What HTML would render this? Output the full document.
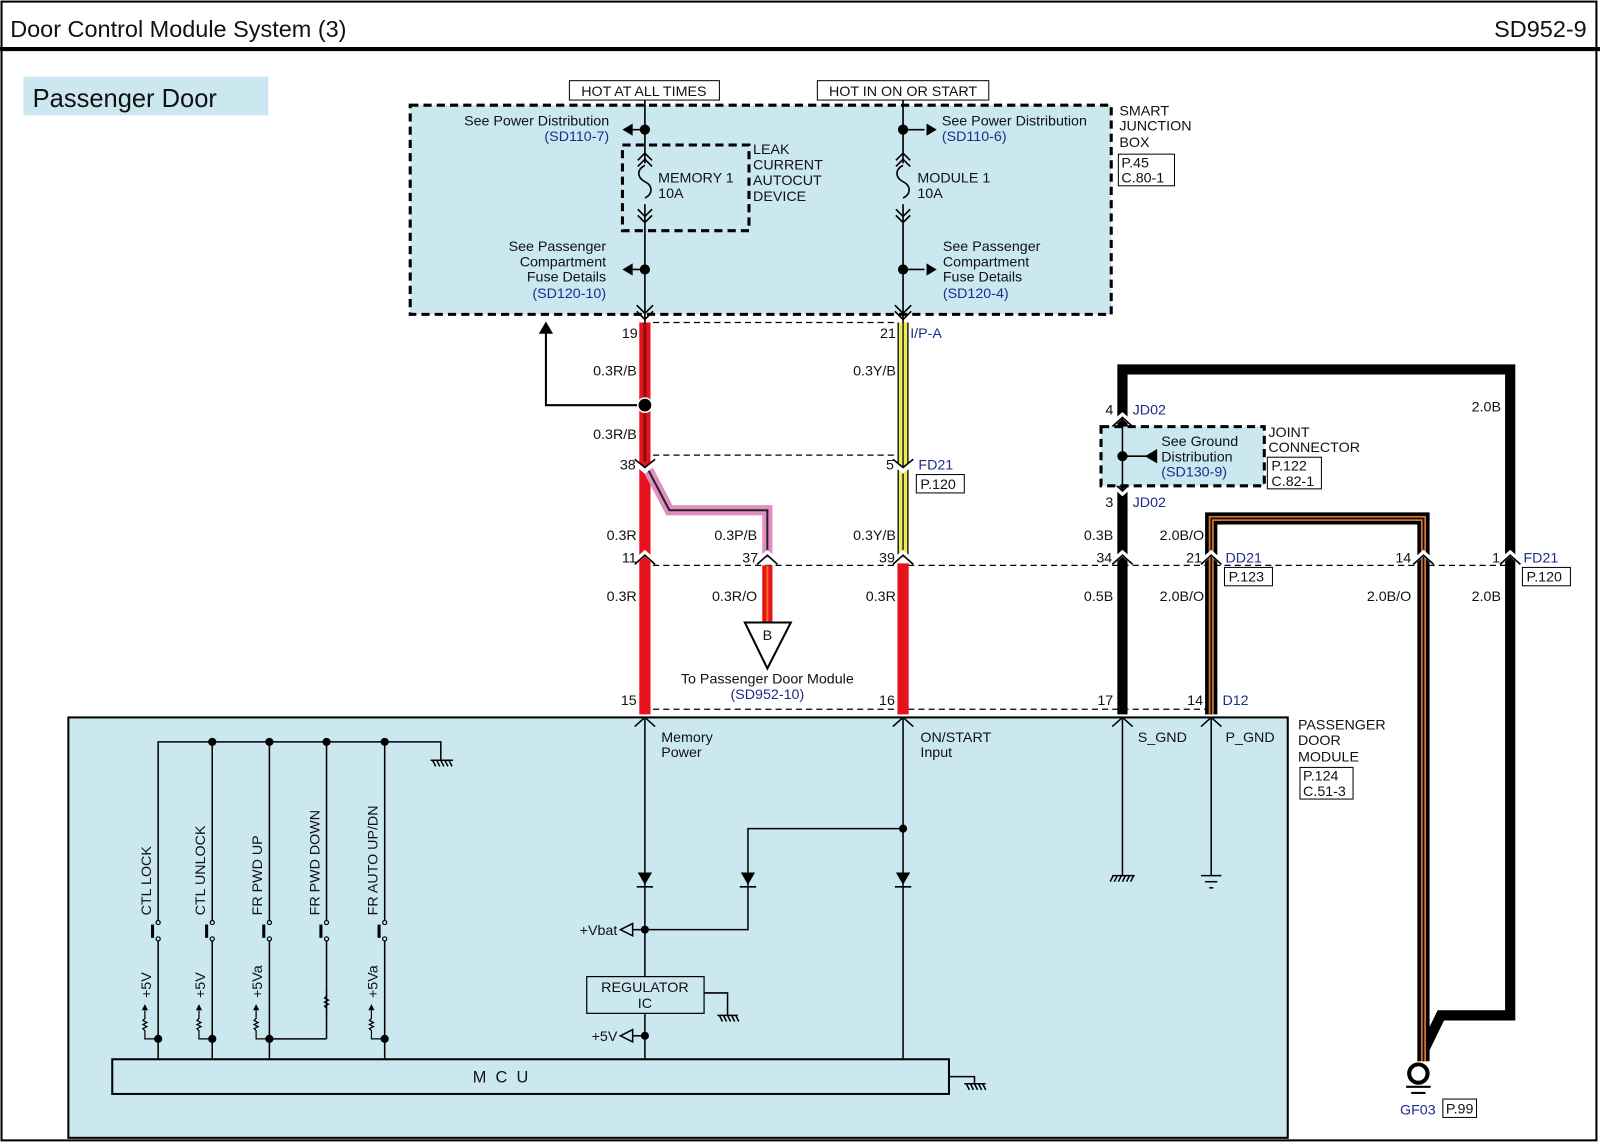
<!DOCTYPE html>
<html><head><meta charset="utf-8"><style>
html,body{margin:0;padding:0;background:#fff}
svg{display:block}
text{font-family:"Liberation Sans",Arial,sans-serif;fill:#111}
.b{fill:#1f2a8c}
.s{font-size:14px}
</style></head><body>
<svg width="1600" height="1143" viewBox="0 0 1568 1120" xmlns="http://www.w3.org/2000/svg">
<rect x="1.5" y="1.5" width="1563" height="1116" fill="#fff" stroke="#000" stroke-width="2"/>
<line x1="0" y1="48" x2="1568" y2="48" stroke="#000" stroke-width="4"/>
<text x="10" y="36" font-size="23">Door Control Module System (3)</text>
<text x="1555" y="36" font-size="23" text-anchor="end">SD952-9</text>
<rect x="23" y="75" width="240" height="38" fill="#cbe8f0"/>
<text x="32" y="105" font-size="25">Passenger Door</text>

<!-- smart junction box -->
<rect x="402" y="103" width="687" height="205" fill="#cbe8f0" stroke="#000" stroke-width="3" stroke-dasharray="8,5"/>
<rect x="610" y="142" width="124" height="84" fill="none" stroke="#000" stroke-width="3" stroke-dasharray="8,5"/>
<rect x="558" y="79" width="147" height="19" fill="#fff" stroke="#000"/>
<text x="631" y="94" font-size="14" text-anchor="middle">HOT AT ALL TIMES</text>
<rect x="801" y="79" width="168" height="19" fill="#fff" stroke="#000"/>
<text x="885" y="94" font-size="14" text-anchor="middle">HOT IN ON OR START</text>
<text x="1097" y="113" class="s">SMART</text><text x="1097" y="128" class="s">JUNCTION</text><text x="1097" y="144" class="s">BOX</text>
<rect x="1096" y="151" width="55" height="31" fill="#fff" stroke="#000"/>
<text x="1099" y="164" class="s">P.45</text><text x="1099" y="179" class="s">C.80-1</text>

<g stroke="#000" stroke-width="1.6" fill="none">
<line x1="632" y1="98" x2="632" y2="160"/><line x1="632" y1="200" x2="632" y2="316"/>
<line x1="885" y1="98" x2="885" y2="160"/><line x1="885" y1="200" x2="885" y2="316"/>
<path d="M632,162 c-8,4 -8,12 0,16 c8,4 8,12 0,16"/>
<path d="M885,162 c-8,4 -8,12 0,16 c8,4 8,12 0,16"/>
<polyline points="625,157 632,150 639,157"/><polyline points="625,163 632,156 639,163"/>
<polyline points="878,157 885,150 892,157"/><polyline points="878,163 885,156 892,163"/>
<polyline points="625,205 632,212 639,205"/><polyline points="625,211 632,218 639,211"/>
<polyline points="878,205 885,212 892,205"/><polyline points="878,211 885,218 892,211"/>
<polyline points="624,299 632,307 640,299"/><polyline points="624,305 632,313 640,305"/>
<polyline points="877,299 885,307 893,299"/><polyline points="877,305 885,313 893,305"/>
<line x1="632" y1="127" x2="618" y2="127"/><line x1="632" y1="264" x2="618" y2="264"/>
<line x1="885" y1="127" x2="906" y2="127"/><line x1="885" y1="264" x2="906" y2="264"/>
</g>
<g fill="#000">
<circle cx="632" cy="127" r="5"/><circle cx="632" cy="264" r="5"/><circle cx="885" cy="127" r="5"/><circle cx="885" cy="264" r="5"/>
<path d="M610,127 l10,-6 v12z"/><path d="M610,264 l10,-6 v12z"/>
<path d="M918,127 l-10,-6 v12z"/><path d="M918,264 l-10,-6 v12z"/>
</g>
<text x="597" y="123" class="s" text-anchor="end">See Power Distribution</text>
<text x="597" y="138" class="s b" text-anchor="end">(SD110-7)</text>
<text x="923" y="123" class="s">See Power Distribution</text>
<text x="923" y="138" class="s b">(SD110-6)</text>
<text x="645" y="179" class="s">MEMORY 1</text><text x="645" y="194" class="s">10A</text>
<text x="899" y="179" class="s">MODULE 1</text><text x="899" y="194" class="s">10A</text>
<text x="738" y="151" class="s">LEAK</text><text x="738" y="166" class="s">CURRENT</text><text x="738" y="181" class="s">AUTOCUT</text><text x="738" y="197" class="s">DEVICE</text>
<text x="594" y="246" class="s" text-anchor="end">See Passenger</text>
<text x="594" y="261" class="s" text-anchor="end">Compartment</text>
<text x="594" y="276" class="s" text-anchor="end">Fuse Details</text>
<text x="594" y="292" class="s b" text-anchor="end">(SD120-10)</text>
<text x="924" y="246" class="s">See Passenger</text>
<text x="924" y="261" class="s">Compartment</text>
<text x="924" y="276" class="s">Fuse Details</text>
<text x="924" y="292" class="s b">(SD120-4)</text>

<g stroke="#000" stroke-width="1.2" stroke-dasharray="6,4" fill="none">
<line x1="640" y1="316" x2="877" y2="316"/>
<line x1="640" y1="446" x2="877" y2="446"/>
<line x1="640" y1="554" x2="1480" y2="554"/>
<line x1="640" y1="695" x2="1187" y2="695"/>
</g>

<polyline points="1100,700 1100,362 1480,362 1480,995 1412,995 1395,1030" fill="none" stroke="#000" stroke-width="10"/>
<polyline points="1187,700 1187,508 1395,508 1395,1040" fill="none" stroke="#000" stroke-width="12"/>
<polyline points="1187,700 1187,508 1395,508 1395,1040" fill="none" stroke="#c8743a" stroke-width="5"/>
<polyline points="1187,700 1187,508 1395,508 1395,1040" fill="none" stroke="#1a0a00" stroke-width="1.5"/>

<line x1="632" y1="316" x2="632" y2="700" stroke="#e8121c" stroke-width="11"/>
<line x1="632" y1="316" x2="632" y2="452" stroke="#8a0d12" stroke-width="3"/>
<polyline points="634,458 656,500 752,500 752,546" fill="none" stroke="#e38ec3" stroke-width="10"/>
<polyline points="634,458 656,500 752,500 752,546" fill="none" stroke="#222" stroke-width="2"/>
<line x1="752" y1="554" x2="752" y2="610" stroke="#e8121c" stroke-width="10"/>
<line x1="752" y1="554" x2="752" y2="610" stroke="#f07010" stroke-width="2"/>
<line x1="885" y1="316" x2="885" y2="546" stroke="#222" stroke-width="11"/>
<line x1="885" y1="316" x2="885" y2="546" stroke="#f0ec50" stroke-width="8"/>
<line x1="885" y1="316" x2="885" y2="546" stroke="#222" stroke-width="1.5"/>
<line x1="885" y1="552" x2="885" y2="700" stroke="#e8121c" stroke-width="11"/>

<polyline points="632,397 535,397 535,325" fill="none" stroke="#000" stroke-width="2"/>
<path d="M535,315 l-7,12 h14z" fill="#000"/>
<circle cx="632" cy="397" r="7" fill="#000" stroke="#fff" stroke-width="1.5"/>

<g stroke="#fff" stroke-width="5" fill="none">
<polyline points="622,453 632,461 642,453"/><polyline points="875,453 885,461 895,453"/>
<polyline points="622,551 632,542 642,551"/><polyline points="742,551 752,542 762,551"/><polyline points="875,551 885,542 895,551"/>
<polyline points="1090,551 1100,542 1110,551"/><polyline points="1177,551 1187,542 1197,551"/><polyline points="1385,551 1395,542 1405,551"/><polyline points="1470,551 1480,542 1490,551"/>
<polyline points="1090,416 1100,407 1110,416"/><polyline points="1090,474 1100,483 1110,474"/>
</g>
<g stroke="#000" stroke-width="1.6" fill="none">
<polyline points="622,450 632,458 642,450"/><polyline points="875,450 885,458 895,450"/>
<polyline points="622,553 632,544 642,553"/><polyline points="742,553 752,544 762,553"/><polyline points="875,553 885,544 895,553"/>
<polyline points="1090,553 1100,544 1110,553"/><polyline points="1177,553 1187,544 1197,553"/><polyline points="1385,553 1395,544 1405,553"/><polyline points="1470,553 1480,544 1490,553"/>
<polyline points="1090,418 1100,409 1110,418"/><polyline points="1090,472 1100,481 1110,472"/>
</g>

<g class="s">
<text x="625" y="331" text-anchor="end">19</text><text x="878" y="331" text-anchor="end">21</text><text x="892" y="331" class="b">I/P-A</text>
<text x="624" y="368" text-anchor="end">0.3R/B</text><text x="878" y="368" text-anchor="end">0.3Y/B</text>
<text x="624" y="430" text-anchor="end">0.3R/B</text>
<text x="623" y="460" text-anchor="end">38</text><text x="876" y="460" text-anchor="end">5</text><text x="900" y="460" class="b">FD21</text>
<rect x="898" y="465" width="47" height="18" fill="#fff" stroke="#000"/><text x="902" y="479">P.120</text>
<text x="624" y="529" text-anchor="end">0.3R</text><text x="742" y="529" text-anchor="end">0.3P/B</text><text x="878" y="529" text-anchor="end">0.3Y/B</text>
<text x="1091" y="529" text-anchor="end">0.3B</text><text x="1180" y="529" text-anchor="end">2.0B/O</text>
<text x="624" y="551" text-anchor="end">11</text><text x="743" y="551" text-anchor="end">37</text><text x="877" y="551" text-anchor="end">39</text>
<text x="1090" y="551" text-anchor="end">34</text><text x="1178" y="551" text-anchor="end">21</text><text x="1201" y="551" class="b">DD21</text>
<rect x="1200" y="556" width="47" height="18" fill="#fff" stroke="#000"/><text x="1204" y="570">P.123</text>
<text x="1383" y="551" text-anchor="end">14</text><text x="1470" y="551" text-anchor="end">1</text><text x="1493" y="551" class="b">FD21</text>
<rect x="1492" y="556" width="47" height="18" fill="#fff" stroke="#000"/><text x="1496" y="570">P.120</text>
<text x="624" y="589" text-anchor="end">0.3R</text><text x="742" y="589" text-anchor="end">0.3R/O</text><text x="878" y="589" text-anchor="end">0.3R</text>
<text x="1091" y="589" text-anchor="end">0.5B</text><text x="1180" y="589" text-anchor="end">2.0B/O</text><text x="1383" y="589" text-anchor="end">2.0B/O</text><text x="1471" y="589" text-anchor="end">2.0B</text>
<text x="1471" y="403" text-anchor="end">2.0B</text>
<text x="624" y="691" text-anchor="end">15</text><text x="877" y="691" text-anchor="end">16</text><text x="1091" y="691" text-anchor="end">17</text><text x="1179" y="691" text-anchor="end">14</text><text x="1198" y="691" class="b">D12</text>
<text x="1091" y="406" text-anchor="end">4</text><text x="1110" y="406" class="b">JD02</text>
<text x="1091" y="497" text-anchor="end">3</text><text x="1110" y="497" class="b">JD02</text>
</g>

<path d="M730,610 L775,610 L752,655 Z" fill="#fff" stroke="#000" stroke-width="2"/>
<text x="752" y="627" class="s" text-anchor="middle">B</text>
<text x="752" y="670" class="s" text-anchor="middle">To Passenger Door Module</text>
<text x="752" y="685" class="s b" text-anchor="middle">(SD952-10)</text>

<rect x="1079" y="418" width="160" height="58" fill="#cbe8f0" stroke="#000" stroke-width="3" stroke-dasharray="8,5"/>
<line x1="1100" y1="410" x2="1100" y2="482" stroke="#000" stroke-width="1.5"/>
<line x1="1100" y1="447" x2="1125" y2="447" stroke="#000" stroke-width="1.5"/>
<circle cx="1100" cy="447" r="5" fill="#000"/><path d="M1122,447 l12,-7 v14z" fill="#000"/>
<text x="1138" y="437" class="s">See Ground</text><text x="1138" y="452" class="s">Distribution</text><text x="1138" y="467" class="s b">(SD130-9)</text>
<text x="1243" y="428" class="s">JOINT</text><text x="1243" y="443" class="s">CONNECTOR</text>
<rect x="1242" y="448" width="53" height="31" fill="#fff" stroke="#000"/>
<text x="1246" y="461" class="s">P.122</text><text x="1246" y="476" class="s">C.82-1</text>

<circle cx="1390" cy="1052" r="9" fill="#fff" stroke="#000" stroke-width="4"/>
<line x1="1378" y1="1065" x2="1402" y2="1065" stroke="#000" stroke-width="2"/>
<line x1="1383" y1="1071" x2="1397" y2="1071" stroke="#000" stroke-width="2"/>
<text x="1372" y="1092" class="s b">GF03</text>
<rect x="1414" y="1077" width="33" height="18" fill="#fff" stroke="#000"/><text x="1417" y="1091" class="s">P.99</text>

<rect x="67" y="703" width="1195" height="412" fill="#cbe8f0" stroke="#000" stroke-width="2"/>
<text x="1272" y="715" class="s">PASSENGER</text><text x="1272" y="730" class="s">DOOR</text><text x="1272" y="746" class="s">MODULE</text>
<rect x="1274" y="752" width="52" height="31" fill="#fff" stroke="#000"/>
<text x="1277" y="765" class="s">P.124</text><text x="1277" y="780" class="s">C.51-3</text>
<g stroke="#000" stroke-width="1.5" fill="none">
<polyline points="622,712 632,703 642,712"/><polyline points="875,712 885,703 895,712"/>
<polyline points="1090,712 1100,703 1110,712"/><polyline points="1177,712 1187,703 1197,712"/>
<line x1="632" y1="703" x2="632" y2="1038"/><line x1="885" y1="703" x2="885" y2="1038"/>
<line x1="1100" y1="703" x2="1100" y2="858"/><line x1="1187" y1="703" x2="1187" y2="858"/>
<line x1="1090" y1="858" x2="1112" y2="858"/>
<path d="M1091,858 l-3,6 M1095,858 l-3,6 M1099,858 l-3,6 M1103,858 l-3,6 M1107,858 l-3,6 M1111,858 l-3,6"/>
<line x1="1177" y1="858" x2="1197" y2="858"/><line x1="1181" y1="864" x2="1193" y2="864"/><line x1="1185" y1="870" x2="1189" y2="870"/>
<polyline points="733,860 733,812 885,812"/>
<polyline points="733,860 733,911 632,911"/>
<line x1="624" y1="869" x2="640" y2="869"/><line x1="725" y1="869" x2="741" y2="869"/><line x1="877" y1="869" x2="893" y2="869"/>
<path d="M608,911 l12,-6 v12z M608,1015 l12,-6 v12z" fill="#cbe8f0"/>
<line x1="620" y1="911" x2="632" y2="911"/><line x1="620" y1="1015" x2="632" y2="1015"/>
<polyline points="690,973 713,973 713,995"/>
<line x1="703" y1="995" x2="723" y2="995"/>
<path d="M705,995 l3,6 M709,995 l3,6 M713,995 l3,6 M717,995 l3,6 M721,995 l3,6"/>
<polyline points="930,1055 955,1055 955,1062"/><line x1="945" y1="1062" x2="966" y2="1062"/>
<path d="M947,1062 l3,6 M951,1062 l3,6 M955,1062 l3,6 M959,1062 l3,6 M963,1062 l3,6"/>
<polyline points="155,1038 155,727 432,727 432,745"/>
<line x1="422" y1="745" x2="444" y2="745"/>
<path d="M424,745 l3,6 M428,745 l3,6 M432,745 l3,6 M436,745 l3,6 M440,745 l3,6"/>
<line x1="208" y1="727" x2="208" y2="1038"/><line x1="264" y1="727" x2="264" y2="1038"/>
<line x1="320" y1="727" x2="320" y2="1018"/><line x1="377" y1="727" x2="377" y2="1038"/>
<line x1="264" y1="1018" x2="320" y2="1018"/>
</g>
<rect x="110" y="1038" width="820" height="34" fill="#cbe8f0" stroke="#000" stroke-width="2"/>
<text x="495" y="1061" font-size="16" text-anchor="middle" letter-spacing="9">MCU</text>
<g fill="#000">
<circle cx="632" cy="911" r="4"/><circle cx="632" cy="1015" r="4"/><circle cx="885" cy="812" r="4"/>
<path d="M625,855 h14 l-7,12z M726,855 h14 l-7,12z M878,855 h14 l-7,12z"/>
<circle cx="208" cy="727" r="4"/><circle cx="264" cy="727" r="4"/><circle cx="320" cy="727" r="4"/><circle cx="377" cy="727" r="4"/>
<circle cx="155" cy="1018" r="4"/><circle cx="208" cy="1018" r="4"/><circle cx="264" cy="1018" r="4"/><circle cx="377" cy="1018" r="4"/>
</g>
<rect x="575" y="957" width="115" height="36" fill="#cbe8f0" stroke="#000" stroke-width="1.2"/>
<text x="632" y="972" class="s" text-anchor="middle">REGULATOR</text><text x="632" y="988" class="s" text-anchor="middle">IC</text>
<text x="605" y="916" class="s" text-anchor="end">+Vbat</text><text x="605" y="1020" class="s" text-anchor="end">+5V</text>
<text x="648" y="727" class="s">Memory</text><text x="648" y="742" class="s">Power</text>
<text x="902" y="727" class="s">ON/START</text><text x="902" y="742" class="s">Input</text>
<text x="1115" y="727" class="s">S_GND</text><text x="1201" y="727" class="s">P_GND</text>
<g fill="#cbe8f0">
<rect x="153" y="902" width="4" height="20"/><rect x="206" y="902" width="4" height="20"/><rect x="262" y="902" width="4" height="20"/>
<rect x="318" y="902" width="4" height="20"/><rect x="375" y="902" width="4" height="20"/>
</g>
<g stroke="#000" stroke-width="1.2" fill="#cbe8f0">
<circle cx="155" cy="904" r="2"/><circle cx="155" cy="920" r="2"/>
<circle cx="208" cy="904" r="2"/><circle cx="208" cy="920" r="2"/>
<circle cx="264" cy="904" r="2"/><circle cx="264" cy="920" r="2"/>
<circle cx="320" cy="904" r="2"/><circle cx="320" cy="920" r="2"/>
<circle cx="377" cy="904" r="2"/><circle cx="377" cy="920" r="2"/>
</g>
<g fill="#000">
<rect x="148" y="906" width="3" height="13"/><rect x="201" y="906" width="3" height="13"/><rect x="257" y="906" width="3" height="13"/><rect x="313" y="906" width="3" height="13"/><rect x="370" y="906" width="3" height="13"/>
</g>
<g stroke="#000" stroke-width="1.2" fill="none">
<path d="M155,1018 h-13 v-8 l-2,-2 l4,-2 l-4,-2 l4,-2 l-4,-2 l2,-2 v-8"/>
<path d="M208,1018 h-13 v-8 l-2,-2 l4,-2 l-4,-2 l4,-2 l-4,-2 l2,-2 v-8"/>
<path d="M264,1018 h-13 v-8 l-2,-2 l4,-2 l-4,-2 l4,-2 l-4,-2 l2,-2 v-8"/>
<path d="M377,1018 h-13 v-8 l-2,-2 l4,-2 l-4,-2 l4,-2 l-4,-2 l2,-2 v-8"/>
<path d="M320,968 v8 l-2,2 l4,2 l-4,2 l4,2 l-4,2 l2,2 v8"/>
</g>
<g fill="#000"><path d="M139,990 l3,-6 l3,6z M192,990 l3,-6 l3,6z M248,990 l3,-6 l3,6z M361,990 l3,-6 l3,6z"/></g>
<g class="s">
<text transform="translate(148,897) rotate(-90)">CTL LOCK</text>
<text transform="translate(201,897) rotate(-90)">CTL UNLOCK</text>
<text transform="translate(257,897) rotate(-90)">FR PWD UP</text>
<text transform="translate(313,897) rotate(-90)">FR PWD DOWN</text>
<text transform="translate(370,897) rotate(-90)">FR AUTO UP/DN</text>
<text transform="translate(148,978) rotate(-90)">+5V</text>
<text transform="translate(201,978) rotate(-90)">+5V</text>
<text transform="translate(257,978) rotate(-90)">+5Va</text>
<text transform="translate(370,978) rotate(-90)">+5Va</text>
</g>
</svg>
</body></html>
